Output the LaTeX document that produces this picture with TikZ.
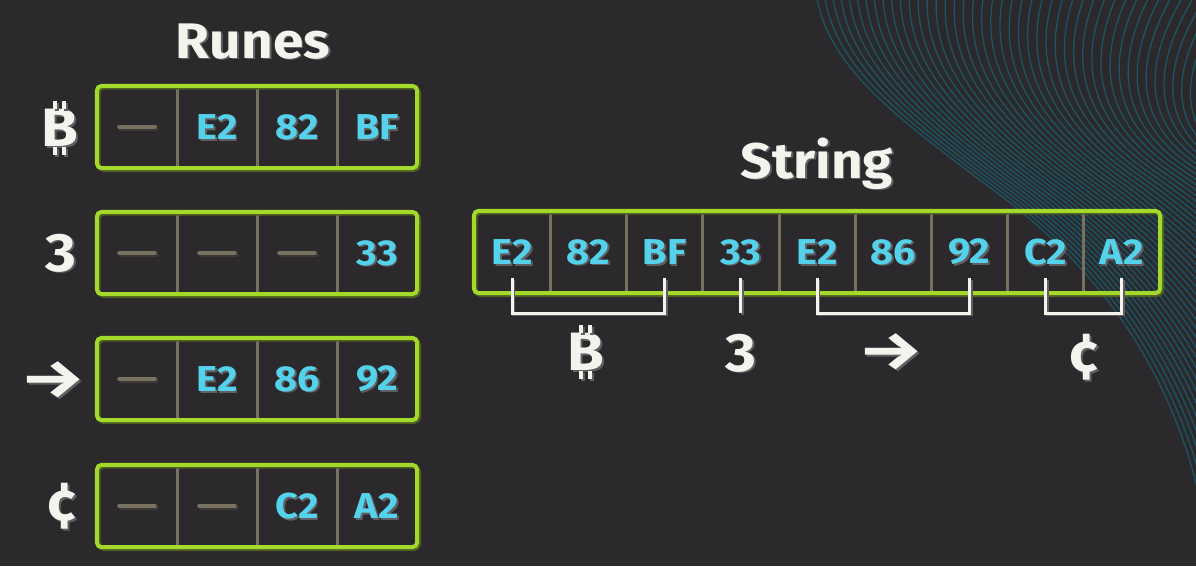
\documentclass[tikz,border=0pt]{standalone}
\usepackage{fontspec}
\setmainfont{Fira Sans}[FakeStretch=1.1]
\usetikzlibrary{calc}
\definecolor{bg}{RGB}{43,41,44}
\definecolor{lime}{RGB}{163,217,42}
\definecolor{limeshd}{RGB}{78,96,34}
\definecolor{divc}{RGB}{120,113,95}
\definecolor{divshd}{RGB}{60,57,52}
\definecolor{cyanx}{RGB}{85,210,235}
\definecolor{whitex}{RGB}{244,244,238}
\definecolor{txtshd}{RGB}{96,94,96}
\definecolor{wavec}{RGB}{26,86,100}
\newcommand\shadowtxt[1]{\leavevmode\rlap{\smash{\kern1.8pt\raisebox{-1.8pt}{\color{txtshd}#1}}}#1}
\tikzset{
  cell/.style={minimum width=80pt, minimum height=82pt, inner sep=0, text=cyanx,
    font=\bfseries\fontsize{36}{40}\selectfont},
  scell/.style={cell, minimum width=76.22pt},
  divider/.style={draw=divc, line width=3pt},
  boxshd/.style={draw=limeshd, line width=4pt, rounded corners=5pt},
  boxln/.style={draw=lime, line width=4pt, rounded corners=5pt},
  bar/.style={draw=divc, line width=3.6pt, line cap=round},
  barshd/.style={draw=divshd, line width=3.6pt, line cap=round},
  title/.style={font=\bfseries\fontsize{50}{56}\selectfont, text=whitex, anchor=base, inner sep=0},
  lbl/.style={font=\bfseries\fontsize{54}{60}\selectfont, text=whitex, inner sep=0},
  brk/.style={draw=whitex, line width=3pt},
  brkshd/.style={draw=txtshd, line width=3pt},
  tick/.style={draw=whitex, line width=3.4pt},
  tickshd/.style={draw=txtshd, line width=3.4pt},
  wave/.style={draw=wavec, line width=1.3pt},
}
\newcommand\emptycell[2]{\node[cell] (#1) at (#2) {};
  \draw[barshd] ([xshift=-16.2pt,yshift=-1.8pt]#1.center) -- ([xshift=19.8pt,yshift=-1.8pt]#1.center);
  \draw[bar] ([xshift=-18pt]#1.center) -- ([xshift=18pt]#1.center);}
\newcommand\hexcell[3]{\node[cell] (#1) at (#2) {\shadowtxt{#3}};}
\newcommand\runebox[2]{% #1 row index, #2 y
  \node[minimum width=320pt, minimum height=82pt, inner sep=0] (row#1) at (257,#2) {};
  \foreach \k in {1,2,3} {\draw[divider] (r#1c\k.north east) -- (r#1c\k.south east);}
  \draw[boxshd] ([shift={(1.8pt,-1.8pt)}]row#1.north west) rectangle ([shift={(1.8pt,-1.8pt)}]row#1.south east);
  \draw[boxln] (row#1.north west) rectangle (row#1.south east);}
\newcommand\btcticks[1]{%
  \foreach \dx in {-5,4} {
    \draw[tickshd] ([xshift=\dx pt+1.8pt,yshift=-1.8pt]#1.north) -- ++(0,-8);
    \draw[tickshd] ([xshift=\dx pt+1.8pt,yshift=-1.8pt]#1.south) -- ++(0,8);
    \draw[tick] ([xshift=\dx pt]#1.north) -- ++(0,-8);
    \draw[tick] ([xshift=\dx pt]#1.south) -- ++(0,8);
  }}
\newcommand\arrowtxt{\scalebox{1.22}[1]{→}}
\begin{document}
\begin{tikzpicture}[x=1pt,y=-1pt]
\useasboundingbox (0,0) rectangle (1196,566);
\fill[bg] (0,0) rectangle (1196,566);
% background waves
\begin{scope}
\clip (0,0) rectangle (1196,566);
\foreach \i in {0,...,44} {
  \pgfmathsetmacro\u{\i/42}
  \pgfmathsetmacro\s{0.8*\u+0.2*\u*\u}
  \draw[wave] ({817+413*\s},{-2-3*\s}) .. controls ({830+355*\s},{70-10*\s}) and ({900+270*\s},{120}) .. ({1000+230*\s},{195-35*\s})
     .. controls ({1100+200*\s},{270-65*\s}) and ({1172+208*\s},{372-112*\s}) .. ({1200+250*\s},{500-170*\s});
}
\end{scope}
% titles
\node[title] (tRunes) at (253,58) {\shadowtxt{Runes}};
\node[title] (tString) at (817,178) {\shadowtxt{String}};
% rune rows
\emptycell{r1c1}{137,127}\hexcell{r1c2}{217,127}{E2}\hexcell{r1c3}{297,127}{82}\hexcell{r1c4}{377,127}{BF}
\runebox{1}{127}
\emptycell{r2c1}{137,253}\emptycell{r2c2}{217,253}\emptycell{r2c3}{297,253}\hexcell{r2c4}{377,253}{33}
\runebox{2}{253}
\emptycell{r3c1}{137,379}\hexcell{r3c2}{217,379}{E2}\hexcell{r3c3}{297,379}{86}\hexcell{r3c4}{377,379}{92}
\runebox{3}{379}
\emptycell{r4c1}{137,506}\emptycell{r4c2}{217,506}\hexcell{r4c3}{297,506}{C2}\hexcell{r4c4}{377,506}{A2}
\runebox{4}{506}
% left labels
\node[lbl] (l1) at (60,128) {\shadowtxt{B}};
\btcticks{l1}
\node[lbl] (l2) at (61,253) {\shadowtxt{3}};
\node[lbl] (l3) at (53,380) {\shadowtxt{\arrowtxt}};
\node[lbl] (l4) at (62,506) {\shadowtxt{¢}};
% string
\foreach \v [count=\i] in {E2,82,BF,33,E2,86,92,C2,A2} {
  \node[scell] (s\i) at ({474+76.22*\i-38.11},252) {\shadowtxt{\v}};
}
\node[minimum width=686pt, minimum height=82pt, inner sep=0] (sbox) at (817,252) {};
\foreach \k in {1,...,8} {\draw[divider] (s\k.north east) -- (s\k.south east);}
\draw[boxshd] ([shift={(1.8pt,-1.8pt)}]sbox.north west) rectangle ([shift={(1.8pt,-1.8pt)}]sbox.south east);
\draw[boxln] (sbox.north west) rectangle (sbox.south east);
% brackets
\begin{scope}[transform canvas={shift={(1.8pt,-1.8pt)}}]
\draw[brkshd] ([yshift=-26pt]s1.center) -- ++(0,35) -| ([yshift=-26pt]s3.center);
\draw[brkshd] ([yshift=-26pt]s4.center) -- ++(0,35);
\draw[brkshd] ([yshift=-26pt]s5.center) -- ++(0,35) -| ([yshift=-26pt]s7.center);
\draw[brkshd] ([yshift=-26pt]s8.center) -- ++(0,35) -| ([yshift=-26pt]s9.center);
\end{scope}
\draw[brk] ([yshift=-26pt]s1.center) -- ++(0,35) -| ([yshift=-26pt]s3.center);
\draw[brk] ([yshift=-26pt]s4.center) -- ++(0,35);
\draw[brk] ([yshift=-26pt]s5.center) -- ++(0,35) -| ([yshift=-26pt]s7.center);
\draw[brk] ([yshift=-26pt]s8.center) -- ++(0,35) -| ([yshift=-26pt]s9.center);
% bottom labels
\node[lbl] (b1) at (586,352) {\shadowtxt{B}};
\btcticks{b1}
\node[lbl] (b2) at (741,353) {\shadowtxt{3}};
\node[lbl] (b3) at (891,352) {\shadowtxt{\arrowtxt}};
\node[lbl] (b4) at (1084,357) {\shadowtxt{¢}};
\end{tikzpicture}
\end{document}
